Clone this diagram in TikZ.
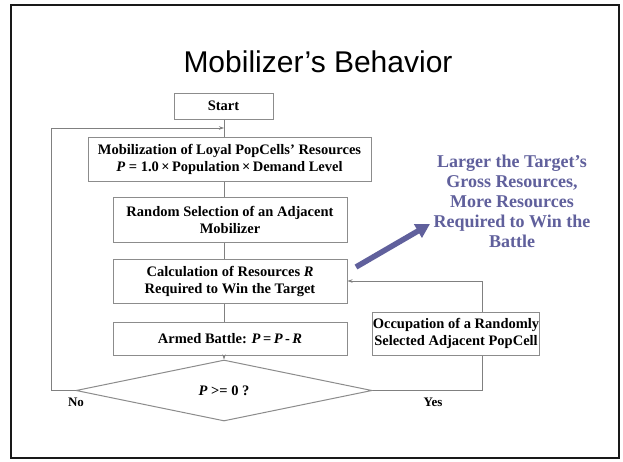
\documentclass[tikz,border=0pt]{standalone}
\usepackage{fontspec}
\setmainfont{Liberation Serif}
\newfontfamily\titlefont{Liberation Sans}
\usetikzlibrary{arrows.meta,shapes.geometric}
\definecolor{boxgray}{RGB}{140,140,140}
\definecolor{linegray}{RGB}{128,128,128}
\definecolor{noteblue}{RGB}{96,96,156}
\begin{document}
\begin{tikzpicture}[x=1pt,y=-1pt,
  box/.style={draw=boxgray, line width=1pt, fill=white, align=center,
    font=\fontsize{14.5}{17}\selectfont\bfseries, inner sep=0pt},
  conn/.style={draw=linegray, line width=0.8pt},
  arr/.style={conn, -{Stealth[length=5pt,width=3.5pt]}},
  lbl/.style={font=\fontsize{13}{15}\selectfont\bfseries},
  note/.style={text=noteblue, align=center, font=\fontsize{18}{20}\selectfont\bfseries},
  bigarrow/.style={draw=noteblue, line width=5.5pt, -{Triangle[length=14pt,width=15pt]}}]
\useasboundingbox (0,0) rectangle (623,461);
\fill[white] (0,0) rectangle (623,461);
\draw[line width=2pt, black!90] (11,5) rectangle (619,458);

\node[font=\titlefont\fontsize{30}{36}\selectfont] (title) at (318,62) {Mobilizer’s Behavior};

\node[box, minimum width=99pt, minimum height=26pt] (start) at (223.5,106) {Start};
\node[box, minimum width=283pt, minimum height=44pt] (mob) at (229.5,159)
  {Mobilization of Loyal PopCells’ Resources\\\textit{P} = 1.0\,×\,Population\,×\,Demand Level};
\node[box, minimum width=234pt, minimum height=45pt] (rand) at (230,219.5)
  {Random Selection of an Adjacent\\Mobilizer};
\node[box, minimum width=234pt, minimum height=44pt] (calc) at (230,281)
  {Calculation of Resources \textit{R}\\Required to Win the Target};
\node[box, minimum width=234pt, minimum height=33pt] (armed) at (230,338.5)
  {Armed Battle: \textit{P}\,=\,\textit{P}\,-\,\textit{R}};
\node[box, minimum width=144pt, minimum height=43pt] (occ) at (456,333.5)
  {Occupation of a Randomly\\Selected Adjacent PopCell};
\node[box, diamond, minimum width=296pt, minimum height=61pt] (dia) at (224,390.5)
  {\textit{P} >= 0 ?};

\node[lbl] (no) at (76,402) {No};
\node[lbl] (yes) at (433,402) {Yes};

\node[note] (notetext) at (512,201)
  {Larger the Target’s\\Gross Resources,\\More Resources\\Required to Win the\\Battle};

\coordinate (sp) at (224,0);
\coordinate (lc) at (51,128);
\coordinate (j1) at (224,128);
\coordinate (rc) at (482,390.5);

\draw[conn] (sp |- start.south) -- (sp |- mob.north);
\draw[conn] (sp |- mob.south) -- (sp |- rand.north);
\draw[conn] (sp |- rand.south) -- (sp |- calc.north);
\draw[conn] (sp |- calc.south) -- (sp |- armed.north);
\draw[arr] (sp |- armed.south) -- (dia.north);

\draw[arr] (dia.west) -| (lc) -- (j1);
\draw[conn] (dia.east) -- (rc) -- (rc |- occ.south);
\draw[arr] (rc |- occ.north) |- (calc.east);

\coordinate (ba) at (356,267);
\coordinate (bb) at (430,224);
\draw[bigarrow] (ba) -- (bb);
\end{tikzpicture}
\end{document}
